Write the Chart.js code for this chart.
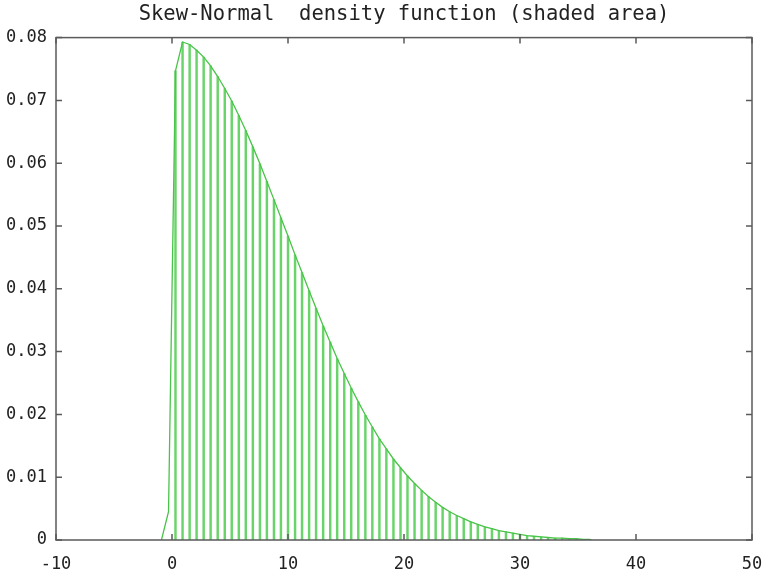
<!DOCTYPE html>
<html lang="en">
  <head>
    <meta charset="UTF-8" />
    <title>Skew-Normal density function</title>
    <script src="https://cdn.jsdelivr.net/npm/chart.js"></script>
    <style>
      html, body { margin: 0; padding: 0; background: #fff; }
      #wrap { width: 766px; height: 576px; }
    </style>
  </head>
  <body>
    <div id="wrap"><canvas id="skewChart"></canvas></div>
    <script>
      // sample positions (x) and density values
      const xs = [
        -0.91, -0.30, 0.30, 0.91, 1.52, 2.12, 2.73, 3.33, 3.94, 4.55,
        5.15, 5.76, 6.36, 6.97, 7.58, 8.18, 8.79, 9.39, 10.00, 10.61,
        11.21, 11.82, 12.42, 13.03, 13.64, 14.24, 14.85, 15.45, 16.06, 16.67,
        17.27, 17.88, 18.48, 19.09, 19.70, 20.30, 20.91, 21.52, 22.12, 22.73,
        23.33, 23.94, 24.55, 25.15, 25.76, 26.36, 26.97, 27.58, 28.18, 28.79,
        29.39, 30.00, 30.61, 31.21, 31.82, 32.42, 33.03, 33.64, 34.24, 34.85,
        35.45, 36.06
      ];
      const density = [
        0.0000, 0.0045, 0.0747, 0.0793, 0.0789, 0.0780, 0.0769, 0.0755, 0.0738, 0.0719,
        0.0699, 0.0676, 0.0652, 0.0626, 0.0599, 0.0571, 0.0542, 0.0513, 0.0484, 0.0454,
        0.0426, 0.0397, 0.0369, 0.0341, 0.0315, 0.0289, 0.0265, 0.0242, 0.0220, 0.0199,
        0.0180, 0.0161, 0.0145, 0.0129, 0.0115, 0.0102, 0.0090, 0.0079, 0.0069, 0.0060,
        0.0052, 0.0045, 0.0039, 0.0034, 0.0029, 0.0025, 0.0021, 0.0018, 0.0015, 0.0013,
        0.0011, 0.0009, 0.0007, 0.0006, 0.0005, 0.0004, 0.0003, 0.0003, 0.0002, 0.0002,
        0.0001, 0.0001
      ];
      const xTickLabels = ["-10", "0", "10", "20", "30", "40", "50"];
      const yTickLabels = ["0", "0.01", "0.02", "0.03", "0.04", "0.05", "0.06", "0.07", "0.08"];

      const curve = xs.map((x, i) => ({ x: x, y: density[i] }));
      const impulses = curve.slice(2); // shading starts at the first full impulse

      const tickFont = { family: "DejaVu Sans Mono", size: 17 };
      const frameColor = "#5a5a5a";

      // gnuplot style box with inward ticks on all four sides
      const framePlugin = {
        id: "frame",
        afterDraw(chart) {
          const { ctx, chartArea: a, scales } = chart;
          const len = 6;
          ctx.save();
          ctx.strokeStyle = frameColor;
          ctx.lineWidth = 1.5;
          ctx.beginPath();
          scales.x.ticks.forEach((t) => {
            const px = scales.x.getPixelForValue(t.value);
            ctx.moveTo(px, a.bottom);
            ctx.lineTo(px, a.bottom - len);
            ctx.moveTo(px, a.top);
            ctx.lineTo(px, a.top + len);
          });
          scales.y.ticks.forEach((t) => {
            const py = scales.y.getPixelForValue(t.value);
            ctx.moveTo(a.left, py);
            ctx.lineTo(a.left + len, py);
            ctx.moveTo(a.right, py);
            ctx.lineTo(a.right - len, py);
          });
          ctx.stroke();
          ctx.strokeRect(a.left, a.top, a.right - a.left, a.bottom - a.top);
          ctx.restore();
        },
      };

      const ctx = document.getElementById("skewChart").getContext("2d");
      new Chart(ctx, {
        type: "bar",
        data: {
          datasets: [
            {
              type: "line",
              label: "density",
              data: curve,
              borderColor: "rgb(72, 196, 72)",
              borderWidth: 1.3,
              pointRadius: 0,
              tension: 0,
              fill: false,
            },
            {
              type: "bar",
              label: "shaded area",
              data: impulses,
              backgroundColor: "rgb(105, 212, 105)",
              borderWidth: 0,
              barThickness: 1.8,
            },
          ],
        },
        plugins: [framePlugin],
        options: {
          responsive: true,
          maintainAspectRatio: false,
          animation: false,
          layout: { padding: { top: 2, left: 6, right: 14, bottom: 2 } },
          plugins: {
            legend: { display: false },
            tooltip: { enabled: false },
            title: {
              display: true,
              fullSize: false,
              text: "Skew-Normal  density function (shaded area)",
              color: "#222",
              font: { family: "DejaVu Sans Mono", size: 20.5, weight: "normal" },
              padding: { top: 0, bottom: 11 },
            },
          },
          scales: {
            x: {
              type: "linear",
              min: -10,
              max: 50,
              offset: false,
              grid: { display: false, drawTicks: false },
              border: { display: false },
              afterFit: (scale) => {
                scale.height = 34;
                scale.paddingLeft = 0;
                scale.paddingRight = 0;
              },
              ticks: {
                stepSize: 10,
                padding: 14,
                color: "#222",
                font: tickFont,
                maxRotation: 0,
                callback: (v, i) => xTickLabels[i],
              },
            },
            y: {
              min: 0,
              max: 0.08,
              grid: { display: false, drawTicks: false },
              border: { display: false },
              afterFit: (scale) => { scale.width = 50; },
              ticks: {
                stepSize: 0.01,
                padding: 9,
                color: "#222",
                font: tickFont,
                callback: (v, i) => yTickLabels[i],
              },
            },
          },
        },
      });
    </script>
  </body>
</html>
